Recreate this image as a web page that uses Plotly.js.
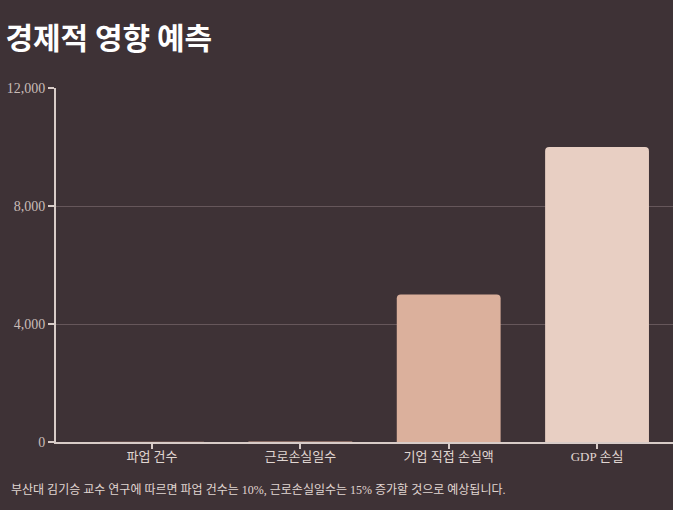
<!DOCTYPE html>
<html>
<head>
<meta charset="utf-8">
<script src="https://cdn.plot.ly/plotly-3.0.1.min.js"></script>
<style>
html,body{margin:0;padding:0;background:#3e3236;}
#chart{width:673px;height:510px;}
</style>
</head>
<body>
<div id="chart"></div>
<script>
var categories = ["파업 건수", "근로손실일수", "기업 직접 손실액", "GDP 손실"];
var values = [10, 15, 5000, 10000];
var barColors = ["#c4907c", "#cfa08c", "#dbb09c", "#e8cfc3"];
var yTicks = [0, 4000, 8000, 12000];
var yTickLabels = ["0", "4,000", "8,000", "12,000"];
var titleText = "경제적 영향 예측";
var noteText = "부산대 김기승 교수 연구에 따르면 파업 건수는 10%, 근로손실일수는 15% 증가할 것으로 예상됩니다.";

var serif = "'Liberation Serif', 'DejaVu Serif', 'Noto Sans CJK KR', serif";

var trace = {
  type: "bar",
  x: categories,
  y: values,
  marker: {color: barColors, cornerradius: 4, line: {width: 0}},
  hoverinfo: "x+y"
};

var layout = {
  width: 673,
  height: 510,
  paper_bgcolor: "#3e3236",
  plot_bgcolor: "#3e3236",
  margin: {l: 56, r: 0, t: 88, b: 68},
  bargap: 0.3,
  showlegend: false,
  title: {
    text: "<b>" + titleText + "</b>",
    x: 0.008, xanchor: "left",
    y: 0.925, yanchor: "middle",
    font: {family: "'Noto Sans CJK KR', 'Noto Sans', sans-serif", size: 30, color: "#ffffff"}
  },
  xaxis: {
    type: "category",
    range: [-0.647, 3.512],
    showline: true, linecolor: "#d8ccc8", linewidth: 2,
    ticks: "outside", ticklen: 5, tickwidth: 2, tickcolor: "#d8ccc8",
    ticklabelstandoff: -4,
    showgrid: false,
    tickfont: {family: serif, size: 13, color: "#e0d6d2"},
    fixedrange: true
  },
  yaxis: {
    range: [0, 12000],
    tickvals: yTicks,
    ticktext: yTickLabels,
    showline: true, linecolor: "#d8ccc8", linewidth: 2,
    ticks: "outside", ticklen: 6, tickwidth: 2, tickcolor: "#d8ccc8",
    showgrid: true, gridcolor: "#66575b", gridwidth: 1,
    zeroline: false,
    tickfont: {family: serif, size: 14, color: "#c9bcb8"},
    fixedrange: true
  },
  annotations: [{
    text: noteText,
    xref: "paper", yref: "paper",
    x: -0.076, y: -0.1356,
    xanchor: "left", yanchor: "middle",
    showarrow: false,
    font: {family: serif, size: 12, color: "#e0d6d2"}
  }]
};

Plotly.newPlot("chart", [trace], layout, {displayModeBar: false, staticPlot: true});
</script>
</body>
</html>
